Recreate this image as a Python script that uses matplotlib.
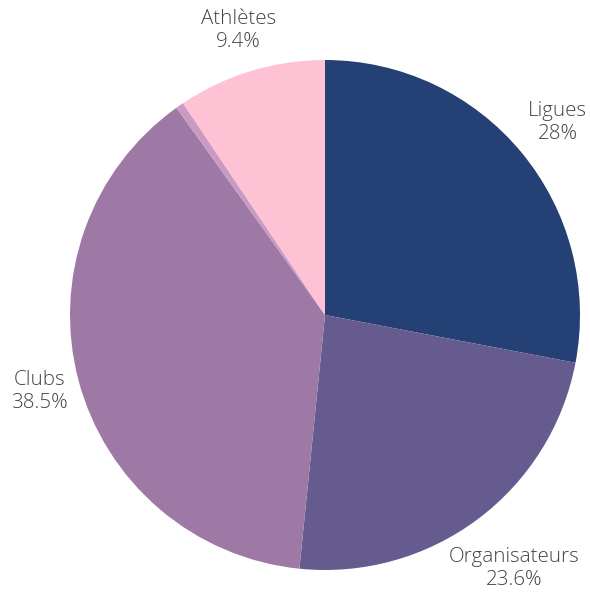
import matplotlib
matplotlib.use("Agg")
import matplotlib.pyplot as plt
import numpy as np

labels = ["Ligues", "Organisateurs", "Clubs", "", "Athlètes"]
values = [28.0, 23.6, 38.5, 0.5, 9.4]
pct_labels = ["28%", "23.6%", "38.5%", "", "9.4%"]
colors = ["#254075", "#655b8f", "#9e79a6", "#c99ac2", "#ffc2d4"]

plt.rcParams['font.family'] = ['Open Sans', 'DejaVu Sans']

fig = plt.figure(figsize=(5.90, 5.93), dpi=100)
ax = fig.add_axes([70/590, 23/593, 510/590, 510/593])
wedges, _ = ax.pie(values, colors=colors, startangle=90, counterclock=False,
                   radius=1.0, wedgeprops=dict(linewidth=0))
ax.set_xlim(-1, 1)
ax.set_ylim(-1, 1)
ax.set_aspect('equal')
ax.axis('off')

dists = [1.185, 1.24, 1.16, 1.0, 1.165]
for w, lab, pl, d in zip(wedges, labels, pct_labels, dists):
    if not lab:
        continue
    ang = np.deg2rad((w.theta1 + w.theta2) / 2)
    ax.text(d * np.cos(ang), d * np.sin(ang), f"{lab}\n{pl}", ha='center', va='center',
            fontsize=14.8, fontweight='light', color='#444444', clip_on=False,
            linespacing=1.2)

fig.savefig("out.png", dpi=100)
